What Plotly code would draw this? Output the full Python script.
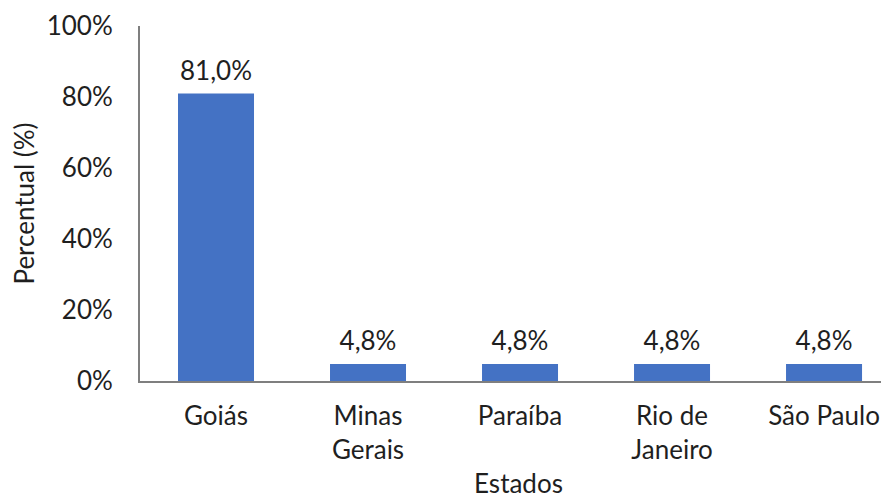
import plotly.graph_objects as go

estados = ["Goiás", "Minas<br>Gerais", "Paraíba", "Rio de<br>Janeiro", "São Paulo"]
percentual = [0.810, 0.048, 0.048, 0.048, 0.048]
y_ticks = [0, 0.2, 0.4, 0.6, 0.8, 1.0]

font_fam = "Lato, Open Sans, sans-serif"
txt_col = "#1f1f1f"
fs = 26

xs = list(range(len(estados)))

fig = go.Figure()
fig.add_trace(go.Bar(
    x=xs,
    y=percentual,
    width=0.5,
    marker=dict(color="#4472C4", line=dict(width=0)),
    hoverinfo="skip",
))
fig.add_trace(go.Scatter(
    x=xs,
    y=percentual,
    mode="markers+text",
    marker=dict(size=10, opacity=0),
    texttemplate="%{y:.1%}",
    textposition="top center",
    textfont=dict(family=font_fam, size=26, color=txt_col),
    cliponaxis=False,
    hoverinfo="skip",
))

fig.update_layout(
    width=889, height=493,
    margin=dict(l=132, r=0, t=18, b=120),
    paper_bgcolor="white", plot_bgcolor="white",
    separators=",.",
    showlegend=False,
    font=dict(family=font_fam, size=fs, color=txt_col),
    xaxis=dict(
        range=[-0.5, 4.48],
        tickmode="array",
        tickvals=xs,
        ticktext=estados,
        showgrid=False,
        showline=True, linecolor="#7f7f7f", linewidth=2,
        ticks="", ticklabelstandoff=11,
        tickfont=dict(size=fs, color=txt_col),
        title=dict(text="Estados", font=dict(size=fs, color=txt_col), standoff=11),
        zeroline=False,
        automargin=False,
    ),
    yaxis=dict(
        range=[0, 1.0],
        tickmode="array",
        tickvals=y_ticks,
        tickformat=".0%",
        showgrid=False,
        showline=True, linecolor="#7f7f7f", linewidth=2,
        ticks="", ticklabelstandoff=20,
        tickfont=dict(size=fs, color=txt_col),
        title=dict(text="Percentual (%)", font=dict(size=fs, color=txt_col), standoff=7),
        zeroline=False,
        automargin=False,
    ),
)

fig.write_html("out.html")
